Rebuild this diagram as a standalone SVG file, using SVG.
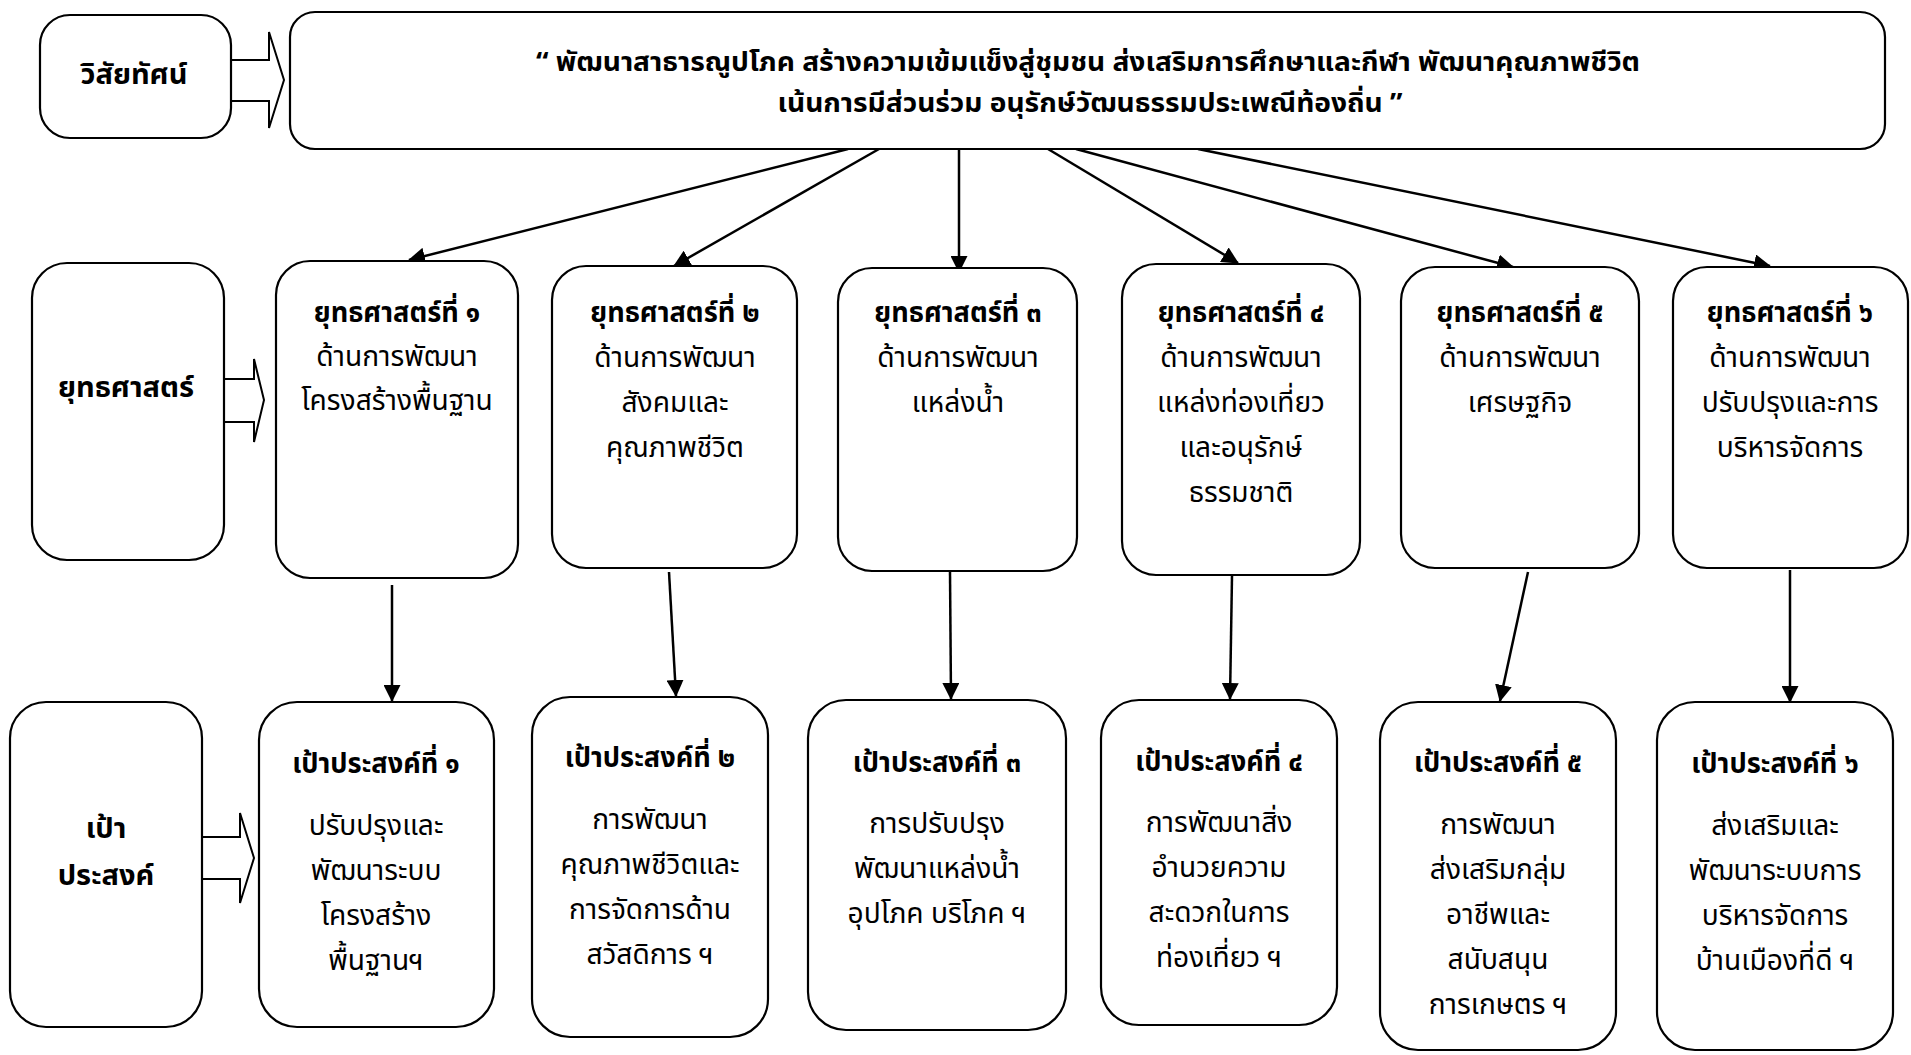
<svg xmlns="http://www.w3.org/2000/svg" width="1911" height="1055" viewBox="0 0 1911 1055">
<defs>
<style>
.box{fill:#fff;stroke:#000;stroke-width:2.2}
.blk{fill:#fff;stroke:#000;stroke-width:2}
.ln{fill:none;stroke:#000;stroke-width:2.5}
text{font-family:"Noto Sans Thai","Noto Sans","Liberation Sans",sans-serif;fill:#000;text-anchor:middle}
.t{font-size:28px;font-weight:bold}
.b{font-size:29px}
.v{font-size:27.3px;font-weight:bold}
.l{font-size:29px;font-weight:bold}
</style>
<marker id="ah" markerWidth="17" markerHeight="17" viewBox="0 0 17 17" refX="16" refY="8.5" orient="auto" markerUnits="userSpaceOnUse">
<path d="M0,0 L17,8.5 L0,17 Z" fill="#000"/>
</marker>
</defs>
<rect width="1911" height="1055" fill="#fff"/>

<g id="connectors">
<line class="ln" x1="848" y1="149" x2="409" y2="260" marker-end="url(#ah)"/>
<line class="ln" x1="879" y1="149" x2="674" y2="266" marker-end="url(#ah)"/>
<line class="ln" x1="959" y1="149" x2="959" y2="272" marker-end="url(#ah)"/>
<line class="ln" x1="1048" y1="149" x2="1238" y2="263" marker-end="url(#ah)"/>
<line class="ln" x1="1076" y1="149" x2="1513" y2="267" marker-end="url(#ah)"/>
<line class="ln" x1="1198" y1="149" x2="1770" y2="266" marker-end="url(#ah)"/>
<line class="ln" x1="392" y1="585" x2="392" y2="701" marker-end="url(#ah)"/>
<line class="ln" x1="669" y1="572" x2="676" y2="696" marker-end="url(#ah)"/>
<line class="ln" x1="950" y1="572" x2="951" y2="699" marker-end="url(#ah)"/>
<line class="ln" x1="1232" y1="576" x2="1230" y2="699" marker-end="url(#ah)"/>
<line class="ln" x1="1528" y1="572" x2="1500" y2="701" marker-end="url(#ah)"/>
<line class="ln" x1="1790" y1="570" x2="1790" y2="702" marker-end="url(#ah)"/>
<path class="blk" d="M231,60 H269 V32 L284,80 L269,128 V101 H231"/>
<path class="blk" d="M224,379 H254 V359 L264,400 L254,442 V422 H224"/>
<path class="blk" d="M202,837 H240 V813 L254,858 L240,903 V879 H202"/>
</g>

<g id="vision-label">
<rect class="box" x="40" y="15" width="191" height="123" rx="30"/>
<text class="l" x="134" y="84">วิสัยทัศน์</text>
</g>
<g id="vision">
<rect class="box" x="290" y="12" width="1595" height="137" rx="25"/>
<g transform="translate(1088 0) scale(1.03 1)">
<text class="v" x="0" y="71">“ พัฒนาสาธารณูปโภค สร้างความเข้มแข็งสู่ชุมชน ส่งเสริมการศึกษาและกีฬา พัฒนาคุณภาพชีวิต</text>
<text class="v" x="2" y="112">เน้นการมีส่วนร่วม อนุรักษ์วัฒนธรรมประเพณีท้องถิ่น ”</text>
</g>
</g>

<g id="strategy-label">
<rect class="box" x="32" y="263" width="192" height="297" rx="35"/>
<text class="l" x="126" y="397">ยุทธศาสตร์</text>
</g>
<g id="s1">
<rect class="box" x="276" y="261" width="242" height="317" rx="34"/>
<g transform="translate(397 0) scale(0.97 1)">
<text class="t" x="0" y="322">ยุทธศาสตร์ที่ ๑</text>
<text class="b" x="0" y="366">ด้านการพัฒนา</text>
<text class="b" x="0" y="410">โครงสร้างพื้นฐาน</text>
</g>
</g>
<g id="s2">
<rect class="box" x="552" y="266" width="245" height="302" rx="34"/>
<g transform="translate(675 0) scale(0.97 1)">
<text class="t" x="0" y="322">ยุทธศาสตร์ที่ ๒</text>
<text class="b" x="0" y="367">ด้านการพัฒนา</text>
<text class="b" x="0" y="412">สังคมและ</text>
<text class="b" x="0" y="457">คุณภาพชีวิต</text>
</g>
</g>
<g id="s3">
<rect class="box" x="838" y="268" width="239" height="303" rx="34"/>
<g transform="translate(958 0) scale(0.97 1)">
<text class="t" x="0" y="322">ยุทธศาสตร์ที่ ๓</text>
<text class="b" x="0" y="367">ด้านการพัฒนา</text>
<text class="b" x="0" y="412">แหล่งน้ำ</text>
</g>
</g>
<g id="s4">
<rect class="box" x="1122" y="264" width="238" height="311" rx="34"/>
<g transform="translate(1241 0) scale(0.97 1)">
<text class="t" x="0" y="322">ยุทธศาสตร์ที่ ๔</text>
<text class="b" x="0" y="367">ด้านการพัฒนา</text>
<text class="b" x="0" y="412">แหล่งท่องเที่ยว</text>
<text class="b" x="0" y="457">และอนุรักษ์</text>
<text class="b" x="0" y="502">ธรรมชาติ</text>
</g>
</g>
<g id="s5">
<rect class="box" x="1401" y="267" width="238" height="301" rx="34"/>
<g transform="translate(1520 0) scale(0.97 1)">
<text class="t" x="0" y="322">ยุทธศาสตร์ที่ ๕</text>
<text class="b" x="0" y="367">ด้านการพัฒนา</text>
<text class="b" x="0" y="412">เศรษฐกิจ</text>
</g>
</g>
<g id="s6">
<rect class="box" x="1673" y="267" width="235" height="301" rx="34"/>
<g transform="translate(1790 0) scale(0.97 1)">
<text class="t" x="0" y="322">ยุทธศาสตร์ที่ ๖</text>
<text class="b" x="0" y="367">ด้านการพัฒนา</text>
<text class="b" x="0" y="412">ปรับปรุงและการ</text>
<text class="b" x="0" y="457">บริหารจัดการ</text>
</g>
</g>

<g id="goal-label">
<rect class="box" x="10" y="702" width="192" height="325" rx="36"/>
<text class="l" x="106" y="838">เป้า</text>
<text class="l" x="106" y="885">ประสงค์</text>
</g>
<g id="g1">
<rect class="box" x="259" y="702" width="235" height="325" rx="38"/>
<g transform="translate(376 0) scale(0.97 1)">
<text class="t" x="0" y="773">เป้าประสงค์ที่ ๑</text>
<text class="b" x="0" y="835">ปรับปรุงและ</text>
<text class="b" x="0" y="880">พัฒนาระบบ</text>
<text class="b" x="0" y="925">โครงสร้าง</text>
<text class="b" x="0" y="970">พื้นฐานฯ</text>
</g>
</g>
<g id="g2">
<rect class="box" x="532" y="697" width="236" height="340" rx="38"/>
<g transform="translate(650 0) scale(0.97 1)">
<text class="t" x="0" y="767">เป้าประสงค์ที่ ๒</text>
<text class="b" x="0" y="829">การพัฒนา</text>
<text class="b" x="0" y="874">คุณภาพชีวิตและ</text>
<text class="b" x="0" y="919">การจัดการด้าน</text>
<text class="b" x="0" y="964">สวัสดิการ ฯ</text>
</g>
</g>
<g id="g3">
<rect class="box" x="808" y="700" width="258" height="330" rx="38"/>
<g transform="translate(937 0) scale(0.97 1)">
<text class="t" x="0" y="772">เป้าประสงค์ที่ ๓</text>
<text class="b" x="0" y="833">การปรับปรุง</text>
<text class="b" x="0" y="878">พัฒนาแหล่งน้ำ</text>
<text class="b" x="0" y="923">อุปโภค บริโภค ฯ</text>
</g>
</g>
<g id="g4">
<rect class="box" x="1101" y="700" width="236" height="325" rx="38"/>
<g transform="translate(1219 0) scale(0.97 1)">
<text class="t" x="0" y="771">เป้าประสงค์ที่ ๔</text>
<text class="b" x="0" y="832">การพัฒนาสิ่ง</text>
<text class="b" x="0" y="877">อำนวยความ</text>
<text class="b" x="0" y="922">สะดวกในการ</text>
<text class="b" x="0" y="967">ท่องเที่ยว ฯ</text>
</g>
</g>
<g id="g5">
<rect class="box" x="1380" y="702" width="236" height="348" rx="38"/>
<g transform="translate(1498 0) scale(0.97 1)">
<text class="t" x="0" y="772">เป้าประสงค์ที่ ๕</text>
<text class="b" x="0" y="834">การพัฒนา</text>
<text class="b" x="0" y="879">ส่งเสริมกลุ่ม</text>
<text class="b" x="0" y="924">อาชีพและ</text>
<text class="b" x="0" y="969">สนับสนุน</text>
<text class="b" x="0" y="1014">การเกษตร ฯ</text>
</g>
</g>
<g id="g6">
<rect class="box" x="1657" y="702" width="236" height="348" rx="38"/>
<g transform="translate(1775 0) scale(0.97 1)">
<text class="t" x="0" y="773">เป้าประสงค์ที่ ๖</text>
<text class="b" x="0" y="835">ส่งเสริมและ</text>
<text class="b" x="0" y="880">พัฒนาระบบการ</text>
<text class="b" x="0" y="925">บริหารจัดการ</text>
<text class="b" x="0" y="970">บ้านเมืองที่ดี ฯ</text>
</g>
</g>
</svg>
